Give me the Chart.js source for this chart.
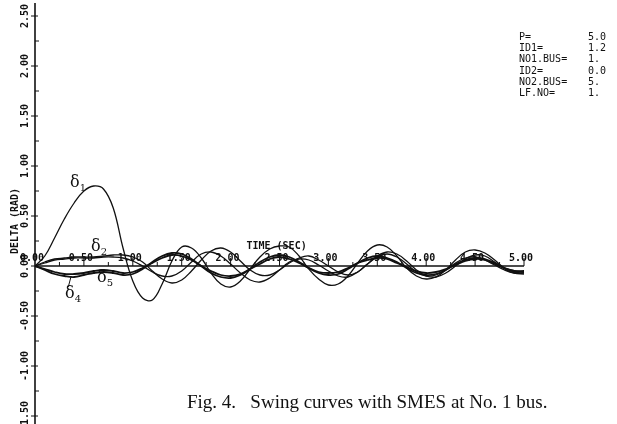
<!DOCTYPE html>
<html>
<head>
<meta charset="utf-8">
<script src="https://cdn.jsdelivr.net/npm/chart.js@4.4.0/dist/chart.umd.min.js"></script>
<style>
  html, body { margin: 0; padding: 0; background: #fff; }
  #wrap { position: relative; width: 617px; height: 424px; overflow: hidden; }
  #swingChart { position: absolute; left: 0; top: 0; }
  .params { position: absolute; left: 519px; top: 31px; width: 98px; font: 10px "DejaVu Sans Mono", monospace; color: #111; line-height: 11.2px; }
  .params div { position: relative; height: 11.2px; white-space: pre; }
  .params span { position: absolute; left: 69px; }
  .caption { position: absolute; left: 187px; top: 391px; font: 19px "Liberation Serif", "Times New Roman", serif; color: #111; white-space: pre; }
  .dl { position: absolute; font: 16px "DejaVu Serif", serif; color: #111; }
  .dl sub { font-size: 10px; }
</style>
</head>
<body>
<div id="wrap">
  <canvas id="swingChart" width="617" height="424"></canvas>
  <div class="params">
    <div>P=<span>5.0</span></div>
    <div>ID1=<span>1.2</span></div>
    <div>NO1.BUS=<span>1.</span></div>
    <div>ID2=<span>0.0</span></div>
    <div>NO2.BUS=<span>5.</span></div>
    <div>LF.NO=<span>1.</span></div>
  </div>
  <div class="dl" style="left:70px;top:172px;">δ<sub>1</sub></div>
  <div class="dl" style="left:91px;top:236px;">δ<sub>2</sub></div>
  <div class="dl" style="left:97px;top:267px;">δ<sub>5</sub></div>
  <div class="dl" style="left:65px;top:283px;">δ<sub>4</sub></div>
  <div class="caption">Fig. 4.   Swing curves with SMES at No. 1 bus.</div>
</div>
<script>
// time axis (sec)
const times = [0, 0.1, 0.2, 0.3, 0.4, 0.5, 0.6, 0.7, 0.8, 0.9, 1.0,
    1.1, 1.2, 1.3, 1.4, 1.5, 1.6, 1.7, 1.8, 1.9, 2.0,
    2.1, 2.2, 2.3, 2.4, 2.5, 2.6, 2.7, 2.8, 2.9, 3.0,
    3.1, 3.2, 3.3, 3.4, 3.5, 3.6, 3.7, 3.8, 3.9, 4.0,
    4.1, 4.2, 4.3, 4.4, 4.5, 4.6, 4.7, 4.8, 4.9, 5.0];

// rotor angles (rad)
const delta1 = [0, 0.10, 0.28, 0.47, 0.63, 0.75, 0.80, 0.77, 0.58, 0.18, -0.15,
    -0.32, -0.34, -0.18, 0.05, 0.19, 0.18, 0.08, -0.07, -0.18, -0.21,
    -0.15, -0.03, 0.09, 0.17, 0.20, 0.19, 0.10, -0.03, -0.13, -0.19,
    -0.18, -0.10, 0.03, 0.15, 0.21, 0.19, 0.10, -0.02, -0.10, -0.13,
    -0.11, -0.04, 0.06, 0.14, 0.16, 0.13, 0.06, -0.02, -0.06, -0.06];
const delta2 = [0, 0.04, 0.07, 0.08, 0.09, 0.09, 0.09, 0.10, 0.11, 0.11, 0.09,
    0.04, -0.05, -0.13, -0.17, -0.14, -0.05, 0.06, 0.15, 0.18, 0.14,
    0.05, -0.04, -0.09, -0.09, -0.04, 0.03, 0.08, 0.10, 0.06, 0.00,
    -0.06, -0.09, -0.06, 0.02, 0.10, 0.14, 0.12, 0.05, -0.04, -0.10,
    -0.11, -0.07, 0.00, 0.07, 0.11, 0.10, 0.04, -0.03, -0.07, -0.08];
const delta3 = [0, 0.03, 0.06, 0.07, 0.08, 0.08, 0.08, 0.09, 0.09, 0.08, 0.05,
    0.00, -0.06, -0.10, -0.10, -0.05, 0.04, 0.12, 0.14, 0.10, 0.02,
    -0.07, -0.14, -0.16, -0.12, -0.04, 0.04, 0.07, 0.06, 0.01, -0.05,
    -0.10, -0.11, -0.06, 0.02, 0.09, 0.12, 0.09, 0.02, -0.06, -0.10,
    -0.09, -0.04, 0.03, 0.08, 0.09, 0.06, 0.01, -0.04, -0.07, -0.07];
const delta4 = [0, -0.04, -0.08, -0.10, -0.11, -0.09, -0.07, -0.06, -0.07, -0.09, -0.08,
    -0.03, 0.04, 0.10, 0.13, 0.12, 0.07, 0.00, -0.07, -0.11, -0.12,
    -0.09, -0.03, 0.04, 0.09, 0.11, 0.09, 0.04, -0.02, -0.07, -0.09,
    -0.08, -0.03, 0.03, 0.08, 0.10, 0.08, 0.04, -0.02, -0.07, -0.09,
    -0.08, -0.04, 0.02, 0.06, 0.08, 0.07, 0.03, -0.02, -0.05, -0.06];
const delta5 = [0, -0.03, -0.06, -0.08, -0.08, -0.07, -0.05, -0.04, -0.05, -0.07, -0.06,
    -0.02, 0.03, 0.08, 0.11, 0.10, 0.06, 0.00, -0.05, -0.09, -0.10,
    -0.08, -0.03, 0.02, 0.07, 0.09, 0.07, 0.03, -0.02, -0.06, -0.07,
    -0.06, -0.02, 0.03, 0.06, 0.08, 0.07, 0.03, -0.01, -0.05, -0.07,
    -0.06, -0.03, 0.01, 0.05, 0.07, 0.06, 0.02, -0.02, -0.05, -0.05];

const xTickLabels = ['0.00', '0.50', '1.00', '1.50', '2.00', '2.50', '3.00', '3.50', '4.00', '4.50', '5.00'];
const yTickLabels = ['-1.50', '-1.00', '-0.50', '0.00', '0.50', '1.00', '1.50', '2.00', '2.50'];

function toPoints(ys) {
    return times.map((t, i) => ({ x: t, y: ys[i] }));
}

// plotter style axes: x axis sits on delta = 0, labels above it
const plotterAxes = {
    id: 'plotterAxes',
    afterDatasetsDraw(chart) {
        const c = chart.ctx;
        const xs = chart.scales.x, ys = chart.scales.y;
        const x0 = xs.getPixelForValue(0), y0 = ys.getPixelForValue(0);
        c.save();
        c.strokeStyle = '#111';
        c.fillStyle = '#111';
        c.lineWidth = 1.6;
        // y axis
        c.beginPath();
        c.moveTo(x0, chart.chartArea.top);
        c.lineTo(x0, chart.chartArea.bottom);
        c.stroke();
        // x axis
        c.beginPath();
        c.moveTo(x0, y0);
        c.lineTo(xs.getPixelForValue(5), y0);
        c.stroke();
        c.lineWidth = 1;
        for (let v = 0.25; v <= 5.001; v += 0.25) {
            const px = xs.getPixelForValue(v);
            const major = Math.abs(v * 2 - Math.round(v * 2)) < 0.01;
            c.beginPath();
            c.moveTo(px, y0);
            c.lineTo(px, y0 - (major ? 8 : 4));
            c.stroke();
        }
        for (let v = -1.5; v <= 2.501; v += 0.25) {
            const py = ys.getPixelForValue(v);
            const major = Math.abs(v * 2 - Math.round(v * 2)) < 0.01;
            c.beginPath();
            c.moveTo(x0 - (major ? 4 : 0), py);
            c.lineTo(x0 + (major ? 3 : 4), py);
            c.stroke();
        }
        c.font = 'bold 10px "DejaVu Sans Mono", monospace';
        c.textAlign = 'center';
        c.textBaseline = 'alphabetic';
        xTickLabels.forEach((lab) => {
            const v = parseFloat(lab);
            c.fillText(lab, xs.getPixelForValue(v) - 3, y0 - 5);
        });
        yTickLabels.forEach((lab) => {
            const v = parseFloat(lab);
            c.save();
            c.translate(x0 - 7, ys.getPixelForValue(v));
            c.rotate(-Math.PI / 2);
            c.fillText(lab, 0, 0);
            c.restore();
        });
        c.font = 'bold 10px "DejaVu Sans Mono", monospace';
        c.fillText('TIME (SEC)', xs.getPixelForValue(2.47), ys.getPixelForValue(0.17));
        c.save();
        c.translate(18, ys.getPixelForValue(0.45));
        c.rotate(-Math.PI / 2);
        c.fillText('DELTA (RAD)', 0, 0);
        c.restore();
        // leader line for delta4
        c.beginPath();
        c.moveTo(xs.getPixelForValue(0.37), ys.getPixelForValue(-0.1));
        c.lineTo(xs.getPixelForValue(0.34), ys.getPixelForValue(-0.21));
        c.stroke();
        c.restore();
    }
};

const lineStyle = { borderColor: '#111', borderWidth: 1.3, pointRadius: 0, tension: 0.4, fill: false };

new Chart(document.getElementById('swingChart').getContext('2d'), {
    type: 'line',
    data: {
        datasets: [
            Object.assign({ label: 'delta1', data: toPoints(delta1) }, lineStyle),
            Object.assign({ label: 'delta2', data: toPoints(delta2) }, lineStyle),
            Object.assign({ label: 'delta3', data: toPoints(delta3) }, lineStyle),
            Object.assign({ label: 'delta4', data: toPoints(delta4) }, lineStyle, { borderWidth: 1.8 }),
            Object.assign({ label: 'delta5', data: toPoints(delta5) }, lineStyle, { borderWidth: 1.8 })
        ]
    },
    options: {
        responsive: false,
        animation: false,
        layout: { padding: { left: 35, right: 93, top: 3, bottom: 0 } },
        plugins: { legend: { display: false }, tooltip: { enabled: false } },
        scales: {
            x: { type: 'linear', min: 0, max: 5, display: false },
            y: { type: 'linear', min: -1.58, max: 2.63, display: false }
        }
    },
    plugins: [plotterAxes]
});
</script>
</body>
</html>
